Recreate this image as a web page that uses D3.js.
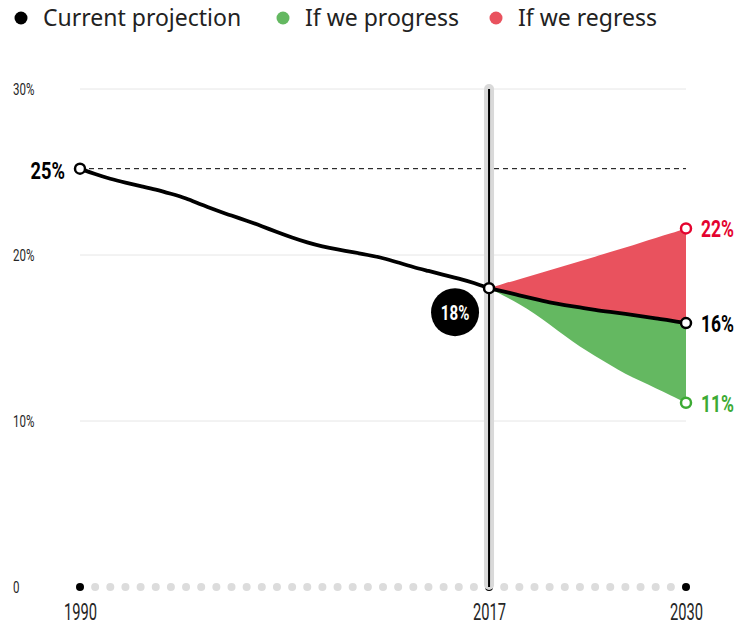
<!DOCTYPE html>
<html>
<head>
<meta charset="utf-8">
<script src="https://cdn.jsdelivr.net/npm/d3@7"></script>
<style>
  html, body { margin: 0; padding: 0; background: #fff; }
  svg { display: block; }
</style>
</head>
<body>
<svg id="chart" width="747" height="630"></svg>
<script>
// Share of population (%), observed trend 1990–2017
const histYears = d3.range(1990, 2018);
const histValues = [25.2, 24.87, 24.58, 24.36, 24.15, 23.95, 23.69, 23.42, 23.03, 22.7,
  22.37, 22.07, 21.74, 21.38, 21.05, 20.75, 20.51, 20.33, 20.18, 20.0,
  19.82, 19.55, 19.27, 19.04, 18.8, 18.59, 18.32, 18.0];

// Scenarios 2017–2030
const projYears = d3.range(2017, 2031);
const currentValues = [18.0, 17.8, 17.57, 17.35, 17.14, 16.98, 16.84, 16.69, 16.57, 16.45, 16.32, 16.18, 16.06, 15.9];
const regressValues = [18.0, 18.28, 18.55, 18.8, 19.08, 19.35, 19.62, 19.9, 20.18, 20.45, 20.75, 21.02, 21.3, 21.6];
const progressValues = [18.0, 17.54, 17.04, 16.49, 15.81, 15.13, 14.46, 13.92, 13.37, 12.83, 12.41, 11.97, 11.54, 11.1];

const yTicks = [0, 10, 20, 30];
const xTicks = [1990, 2017, 2030];
const legendItems = ["Current projection", "If we progress", "If we regress"];

const colors = {
  current: "#000000",
  progressFill: "#64b861",
  regressFill: "#e9525e",
  progressText: "#3caa34",
  regressText: "#e4042f",
  grid: "#e6e6e6",
  dots: "#dcdcdc",
  axisText: "#262626"
};

const numFont = "Roboto, sans-serif";

// Squeeze text horizontally for a condensed look
function condense(sel, factor) {
  sel.each(function () {
    const w = this.getComputedTextLength();
    d3.select(this).attr("textLength", w * factor).attr("lengthAdjust", "spacingAndGlyphs");
  });
}

const svg = d3.select("#chart");
const x = d3.scaleLinear().domain([1990, 2030]).range([80, 686]);
const y = d3.scaleLinear().domain([0, 30]).range([587, 89]);

const hist = histYears.map((yr, i) => ({ yr, v: histValues[i] }));
const proj = projYears.map((yr, i) => ({
  yr, cur: currentValues[i], reg: regressValues[i], pro: progressValues[i]
}));

// Legend
const legendX = [21, 283, 496];
const legendColors = [colors.current, colors.progressFill, colors.regressFill];
const legend = svg.append("g").attr("transform", "translate(0,18)");
legendItems.forEach((label, i) => {
  legend.append("circle").attr("cx", legendX[i]).attr("cy", 0).attr("r", 6.5).attr("fill", legendColors[i]);
  legend.append("text").attr("x", legendX[i] + 22).attr("y", 8)
    .attr("font-family", "'Noto Sans', sans-serif").attr("font-size", 23)
    .attr("fill", "#222").text(label);
});

// Gridlines
svg.append("g").selectAll("line").data(yTicks.filter(d => d > 0)).join("line")
  .attr("x1", x(1990)).attr("x2", x(2030))
  .attr("y1", d => y(d)).attr("y2", d => y(d))
  .attr("stroke", colors.grid).attr("stroke-width", 1);

// Y axis labels
const yAxis = d3.axisRight(y).tickValues(yTicks).tickSize(0).tickPadding(0)
  .tickFormat(d => d === 0 ? "0" : d + "%");
const yg = svg.append("g").attr("transform", "translate(13,0)").call(yAxis);
yg.select(".domain").remove();
yg.selectAll("text").attr("font-family", numFont).attr("font-weight", 400)
  .attr("font-size", 16).attr("fill", colors.axisText).call(condense, 0.72);

// Baseline dots for every year
svg.append("g").selectAll("circle").data(d3.range(1990, 2031)).join("circle")
  .attr("cx", d => x(d)).attr("cy", y(0)).attr("r", 4)
  .attr("fill", d => xTicks.includes(d) ? "#000" : colors.dots);

// X axis labels
const xAxis = d3.axisBottom(x).tickValues(xTicks).tickSize(0).tickPadding(17).tickFormat(d3.format("d"));
const xg = svg.append("g").attr("transform", `translate(0,${y(0)})`).call(xAxis);
xg.select(".domain").remove();
xg.selectAll("text").attr("font-family", numFont).attr("font-weight", 400)
  .attr("font-size", 23).attr("fill", colors.axisText).call(condense, 0.64);

// Reference line at the 1990 level
svg.append("line")
  .attr("x1", x(1990)).attr("x2", x(2030))
  .attr("y1", y(histValues[0])).attr("y2", y(histValues[0]))
  .attr("stroke", "#000").attr("stroke-width", 1).attr("stroke-dasharray", "5,4");

// Marker for the current year
const nowX = x(2017);
svg.append("rect").attr("x", nowX - 5).attr("y", y(30) - 5).attr("width", 10)
  .attr("height", y(0) - y(30) + 8).attr("rx", 5).attr("fill", "#d9d9d9");
svg.append("line").attr("x1", nowX).attr("x2", nowX).attr("y1", y(30)).attr("y2", y(0))
  .attr("stroke", "#000").attr("stroke-width", 2);

// Scenario bands
const curve = d3.curveBasis;
svg.append("path").datum(proj)
  .attr("d", d3.area().x(d => x(d.yr)).y0(d => y(d.cur)).y1(d => y(d.reg)).curve(curve))
  .attr("fill", colors.regressFill);
svg.append("path").datum(proj)
  .attr("d", d3.area().x(d => x(d.yr)).y0(d => y(d.pro)).y1(d => y(d.cur)).curve(curve))
  .attr("fill", colors.progressFill);

// Main line
svg.append("path").datum(hist)
  .attr("d", d3.line().x(d => x(d.yr)).y(d => y(d.v)).curve(curve))
  .attr("fill", "none").attr("stroke", "#000").attr("stroke-width", 3.8).attr("stroke-linejoin", "round");
svg.append("path").datum(proj)
  .attr("d", d3.line().x(d => x(d.yr)).y(d => y(d.cur)).curve(curve))
  .attr("fill", "none").attr("stroke", "#000").attr("stroke-width", 3.8).attr("stroke-linejoin", "round");

// Point markers
const fmt = v => d3.format(".0f")(v) + "%";
const last = proj[proj.length - 1];
const markers = [
  { yr: 1990, v: histValues[0], c: "#000" },
  { yr: 2017, v: histValues[histValues.length - 1], c: "#000" },
  { yr: 2030, v: last.cur, c: "#000" },
  { yr: 2030, v: last.reg, c: colors.regressText },
  { yr: 2030, v: last.pro, c: colors.progressText }
];
svg.append("g").selectAll("circle").data(markers).join("circle")
  .attr("cx", d => x(d.yr)).attr("cy", d => y(d.v)).attr("r", 5)
  .attr("fill", "#fff").attr("stroke", d => d.c).attr("stroke-width", 2.5);

// End labels
const endLabels = [
  { v: last.reg, c: colors.regressText },
  { v: last.cur, c: "#000" },
  { v: last.pro, c: colors.progressText }
];
svg.append("g").selectAll("text").data(endLabels).join("text")
  .attr("x", x(2030) + 15).attr("y", d => y(d.v) + 9)
  .attr("font-family", numFont).attr("font-size", 23).attr("font-weight", "bold").attr("fill", d => d.c)
  .text(d => fmt(d.v)).call(condense, 0.76);

// Start label
svg.append("text")
  .attr("x", x(1990) - 15).attr("y", y(histValues[0]) + 10).attr("text-anchor", "end")
  .attr("font-family", numFont).attr("font-size", 24).attr("font-weight", "bold").attr("fill", "#000")
  .text(fmt(histValues[0])).call(condense, 0.76);

// Current-year badge
const nowV = histValues[histValues.length - 1];
svg.append("circle").attr("cx", nowX - 34).attr("cy", y(nowV) + 24).attr("r", 24).attr("fill", "#000");
svg.append("text")
  .attr("x", nowX - 34).attr("y", y(nowV) + 32).attr("text-anchor", "middle")
  .attr("font-family", numFont).attr("font-size", 21).attr("font-weight", "bold").attr("fill", "#fff")
  .text(fmt(nowV)).call(condense, 0.72);
</script>
</body>
</html>
